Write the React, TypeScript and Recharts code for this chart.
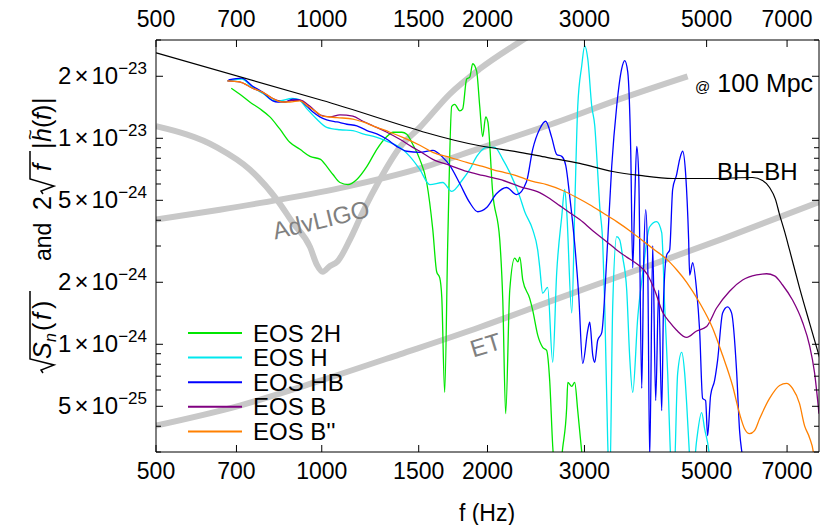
import React from 'react';
import { LineChart, Line, XAxis, YAxis } from 'recharts';

const FONT = "'Liberation Sans', Arial, sans-serif";

// frequency in Hz, amplitude in units of 1e-24
const X_TICKS = [500, 700, 1000, 1500, 2000, 3000, 5000, 7000];
const Y_TICKS = [0.3, 0.4, 0.5, 0.6, 0.7, 0.8, 0.9, 1, 2, 3, 4, 5, 6, 7, 8, 9, 10, 20, 30];
const Y_LABELED = [0.5, 1, 2, 5, 10, 20];

const ADV_LIGO = [
  [500, 11.44], [645, 9.04], [740, 7.06], [829, 5.04], [886, 3.89], [952, 2.97], [980, 2.43],
  [1004, 2.25], [1035, 2.4], [1066, 2.51], [1125, 3.22], [1188, 4.4], [1275, 6.31], [1386, 9.04],
  [1507, 11.3], [1708, 16.4], [1936, 21.7], [2337, 30.4], [2500, 34],
];
const BROADBAND = [
  [500, 4.03], [653, 4.5], [839, 5.04], [1111, 5.83], [1507, 7.14], [1936, 8.94], [2705, 12.1],
  [3476, 15.5], [4618, 20.0],
];
const ET = [
  [500, 0.403], [710, 0.504], [984, 0.66], [1386, 0.894], [1936, 1.21], [2705, 1.68], [3780, 2.32],
  [5346, 3.25], [8000, 4.9],
];
const BHBH = [
  [500, 26.0], [1000, 15.3], [1936, 9.2], [2289, 8.55], [2562, 8.08], [2941, 7.55], [3376, 6.9],
  [3780, 6.6], [4339, 6.38], [5126, 6.38], [6059, 6.45], [6318, 6.24], [6506, 5.77], [6671, 5.04],
  [6784, 4.26], [6929, 3.52], [7073, 2.87], [7375, 1.88], [7689, 1.27], [8026, 0.855],
];
const EOS_2H = [
  [685, 17.5], [709, 16.4], [740, 15.0], [772, 13.9], [805, 12.7], [839, 11.1], [875, 9.56],
  [913, 8.84], [952, 8.17], [995, 7.9], [1021, 7.3], [1048, 6.67], [1079, 6.1], [1116, 5.96],
  [1158, 6.31], [1208, 7.3], [1259, 8.84], [1313, 10.2], [1347, 10.7], [1398, 10.7], [1427, 10.45],
  [1463, 9.35], [1507, 7.9], [1551, 6.1], [1591, 3.6], [1617, 2.25], [1638, 2.1], [1652, 1.69],
  [1672, 0.584], [1694, 3.22], [1722, 14.3], [1744, 14.6], [1781, 13.6], [1803, 13.9], [1833, 19.4],
  [1857, 19.8], [1880, 23.0], [1911, 21.2], [1936, 14.3], [1960, 10.2], [1985, 12.7], [2003, 12.0],
  [2044, 5.45], [2105, 3.22], [2132, 1.64], [2158, 0.46], [2195, 1.83], [2241, 2.62], [2271, 2.51],
  [2289, 2.65], [2318, 2.05], [2386, 1.67], [2416, 1.465], [2468, 1.105], [2519, 0.967],
  [2561, 0.935], [2594, 0.668], [2627, 0.321], [2683, 0.2], [2739, 0.314], [2785, 0.492],
  [2798, 0.653], [2845, 0.625], [2880, 0.653], [2917, 0.476], [2966, 0.3], [3004, 0.2],
];
const EOS_H = [
  [674, 19.0], [715, 19.4], [749, 17.7], [782, 16.5], [815, 15.3], [839, 15.2], [882, 15.6],
  [905, 15.5], [940, 13.9], [979, 12.4], [1021, 11.3], [1079, 11.0], [1139, 10.9], [1188, 10.5],
  [1259, 10.1], [1313, 9.67], [1386, 9.04], [1445, 8.17], [1507, 7.06], [1571, 5.96], [1659, 6.1],
  [1722, 5.52], [1803, 6.31], [1857, 7.06], [1912, 8.17], [1994, 9.04], [2061, 9.04], [2132, 7.9],
  [2195, 6.83], [2289, 5.21], [2337, 4.4], [2416, 3.6], [2467, 2.87], [2488, 2.37], [2519, 1.77],
  [2572, 1.89], [2627, 0.818], [2671, 2.22], [2728, 4.16], [2762, 5.64], [2786, 4.35], [2845, 1.42],
  [2881, 4.66], [2917, 14.3], [2966, 22.5], [3003, 28.1], [3042, 24.3], [3093, 14.3], [3132, 11.5],
  [3171, 6.83], [3198, 4.66], [3238, 3.11], [3266, 1.52], [3306, 0.34], [3334, 0.2], [3376, 1.52],
  [3433, 3.33], [3476, 3.22], [3520, 2.65], [3580, 1.83], [3625, 0.864], [3671, 0.584],
  [3749, 1.35], [3828, 2.22], [3941, 3.72], [4058, 3.94], [4144, 3.48], [4196, 1.52], [4249, 0.722],
  [4302, 0.28], [4356, 0.2], [4430, 0.722], [4505, 0.914], [4562, 0.722], [4600, 0.515],
  [4658, 0.28], [4697, 0.2], [4795, 0.34], [4897, 0.466], [4958, 0.389], [5063, 0.28], [5105, 0.2],
];
const EOS_HB = [
  [677, 19.2], [715, 19.6], [749, 17.9], [782, 16.7], [815, 15.2], [832, 15.0], [857, 15.0],
  [886, 15.5], [913, 15.3], [940, 14.3], [964, 13.4], [992, 12.7], [1021, 12.3], [1066, 12.0],
  [1111, 11.7], [1158, 11.5], [1208, 10.9], [1259, 10.5], [1313, 9.89], [1368, 9.14], [1427, 8.65],
  [1507, 8.55], [1591, 8.74], [1659, 8.08], [1708, 7.39], [1781, 6.03], [1857, 4.87], [1920, 4.4],
  [1993, 4.61], [2078, 5.39], [2166, 5.77], [2259, 5.33], [2355, 6.17], [2416, 8.84], [2488, 11.1],
  [2551, 12.1], [2616, 10.1], [2671, 8.35], [2728, 8.17], [2774, 7.39], [2821, 5.21], [2881, 3.04],
  [2929, 1.73], [2978, 0.808], [3042, 1.17], [3067, 1.28], [3106, 0.884], [3132, 0.818],
  [3171, 1.046], [3225, 1.14], [3292, 2.57], [3362, 7.3], [3433, 14.3], [3505, 21.7], [3550, 23.8],
  [3595, 21.0], [3640, 8.84], [3671, 2.35], [3702, 5.04], [3733, 9.14], [3764, 6.67], [3812, 0.611],
  [3844, 2.57], [3876, 4.5], [3908, 2.57], [3941, 0.28], [3991, 3.01], [4041, 0.533], [4092, 1.83],
  [4144, 0.476], [4178, 1.69], [4230, 2.71], [4284, 2.87], [4338, 5.64], [4411, 6.67], [4467, 7.9],
  [4523, 8.65], [4581, 6.67], [4638, 3.22], [4658, 2.17], [4717, 2.49], [4795, 1.83], [4856, 1.17],
  [4917, 0.546], [4979, 0.533], [5021, 0.36], [5084, 0.564], [5170, 0.668], [5235, 0.836],
  [5346, 1.42], [5458, 1.52], [5550, 1.42], [5667, 0.747], [5739, 0.381], [5812, 0.28], [5885, 0.2],
];
const EOS_B = [
  [674, 19.0], [709, 18.8], [749, 17.5], [782, 16.7], [815, 15.6], [857, 15.0], [886, 15.3],
  [913, 15.3], [952, 14.3], [992, 13.0], [1035, 12.7], [1079, 13.0], [1139, 12.8], [1188, 12.1],
  [1238, 11.5], [1313, 10.7], [1386, 9.89], [1463, 9.04], [1507, 8.65], [1591, 7.9], [1708, 7.39],
  [1833, 6.9], [1960, 6.6], [2105, 6.31], [2289, 5.83], [2488, 5.45], [2594, 5.1], [2705, 4.71],
  [2821, 4.35], [2941, 4.03], [3106, 3.56], [3292, 3.15], [3433, 2.87], [3580, 2.65], [3733, 2.46],
  [3908, 2.17], [4024, 1.83], [4161, 1.43], [4284, 1.28], [4411, 1.17], [4600, 1.08], [4795, 1.16],
  [5000, 1.22], [5213, 1.5], [5504, 1.81], [5812, 2.05], [6162, 2.17], [6425, 2.2], [6643, 2.15],
  [6870, 1.94], [7162, 1.64], [7468, 1.28], [7689, 0.988], [7851, 0.731], [8000, 0.46],
];
const EOS_B2 = [
  [674, 19.0], [709, 18.8], [749, 17.5], [782, 16.7], [815, 15.6], [846, 15.0], [875, 15.0],
  [913, 15.2], [944, 14.3], [979, 13.4], [1004, 12.8], [1066, 12.6], [1139, 12.4], [1188, 12.0],
  [1259, 11.3], [1330, 10.7], [1403, 10.1], [1507, 9.25], [1591, 8.55], [1708, 8.08], [1833, 7.64],
  [1960, 7.3], [2105, 6.9], [2223, 6.67], [2416, 6.17], [2562, 5.96], [2739, 5.58], [2904, 5.16],
  [3067, 4.76], [3238, 4.35], [3433, 3.94], [3625, 3.56], [3828, 3.18], [4024, 2.87], [4230, 2.59],
  [4411, 2.3], [4600, 2.0], [4856, 1.59], [5126, 1.2], [5346, 0.884], [5572, 0.631], [5739, 0.46],
  [5860, 0.389], [5984, 0.368], [6110, 0.381], [6240, 0.435], [6506, 0.546], [6784, 0.631],
  [6983, 0.646], [7162, 0.611], [7375, 0.515], [7530, 0.403], [7689, 0.352], [7820, 0.295],
  [7886, 0.2],
];

const SERIES = [
  { name: 'EOS 2H', rows: EOS_2H, color: '#00e600' },
  { name: 'EOS H', rows: EOS_H, color: '#00e8ee' },
  { name: 'EOS HB', rows: EOS_HB, color: '#0000ff' },
  { name: 'EOS B', rows: EOS_B, color: '#800080' },
  { name: "EOS B''", rows: EOS_B2, color: '#ff8000' },
];

const toPoints = (rows: number[][]) => rows.map(([f, v]) => ({ f, v }));

const GRAY = '#c8c8c8';

const LeftTick = (props: any) => {
  const { x, y, payload } = props;
  const v = payload.value;
  const major = Y_LABELED.includes(v);
  const e = Math.floor(Math.log10(v) + 1e-9);
  const mant = Math.round(v / Math.pow(10, e));
  const exp = e - 24;
  return (
    <g>
      <line x1={x} y1={y} x2={x + (major ? 7 : 5)} y2={y} stroke="#000" />
      {major && (
        <text x={x - 9} y={y + 8} textAnchor="end" fontSize={24} fontFamily={FONT} fill="#000">
          <tspan>{mant}</tspan>
          <tspan dx={3}>×</tspan>
          <tspan dx={3}>10</tspan>
          <tspan dy={-10} fontSize={17}>{'\u2212' + Math.abs(exp)}</tspan>
        </text>
      )}
    </g>
  );
};

const RightTick = (props: any) => {
  const { x, y, payload } = props;
  const major = Y_LABELED.includes(payload.value);
  return <line x1={x} y1={y} x2={x - (major ? 7 : 5)} y2={y} stroke="#000" />;
};

const BottomTick = (props: any) => {
  const { x, y, payload } = props;
  return (
    <g>
      <line x1={x} y1={y} x2={x} y2={y - 7} stroke="#000" />
      <text x={x} y={y + 27} textAnchor="middle" fontSize={23} fontFamily={FONT} fill="#000">
        {payload.value}
      </text>
    </g>
  );
};

const TopTick = (props: any) => {
  const { x, y, payload } = props;
  return (
    <g>
      <line x1={x} y1={y} x2={x} y2={y + 7} stroke="#000" />
      <text x={x} y={y - 13} textAnchor="middle" fontSize={23} fontFamily={FONT} fill="#000">
        {payload.value}
      </text>
    </g>
  );
};

const Overlay = () => (
  <svg
    width={821}
    height={525}
    style={{ position: 'absolute', left: 0, top: 0, pointerEvents: 'none' }}
    fontFamily={FONT}
  >
    {/* y axis title */}
    <g transform="translate(51,373) rotate(-90)" fill="#000">
      <path d="M0,-8 L3,-10 L8,3 L14,-21 L82,-21" stroke="#000" strokeWidth={1.5} fill="none" />
      <text x={14} y={0} fontSize={25} fontStyle="italic">S</text>
      <text x={31} y={5} fontSize={16} fontStyle="italic">n</text>
      <text x={42} y={0} fontSize={25}>(</text>
      <text x={53} y={0} fontSize={25} fontStyle="italic">f</text>
      <text x={64} y={0} fontSize={25}>)</text>
      <text x={112} y={0} fontSize={23}>and</text>
      <text x={163} y={0} fontSize={25}>2</text>
      <path d="M179,-8 L182,-10 L187,3 L194,-21 L222,-21" stroke="#000" strokeWidth={1.5} fill="none" />
      <text x={202} y={0} fontSize={25} fontStyle="italic">f</text>
      <text x={224} y={0} fontSize={25}>|</text>
      <text x={231} y={0} fontSize={25} fontStyle="italic">h</text>
      <text x={233} y={-15} fontSize={18}>~</text>
      <text x={245} y={0} fontSize={25}>(</text>
      <text x={253} y={0} fontSize={25} fontStyle="italic">f</text>
      <text x={260} y={0} fontSize={25}>)</text>
      <text x={269} y={0} fontSize={25}>|</text>
    </g>

    <text x={487} y={521} textAnchor="middle" fontSize={23} fill="#000">f (Hz)</text>

    <text x={695} y={92} fontSize={25} fill="#000">
      <tspan fontSize={15}>@</tspan>
      <tspan dx={7}>100 Mpc</tspan>
    </text>
    <text x={717} y={180} fontSize={24} fill="#000">BH{'\u2212'}BH</text>
    <text transform="translate(323,228) rotate(-13.6)" textAnchor="middle" fontSize={24} fill="#808080">
      AdvLIGO
    </text>
    <text transform="translate(488,353) rotate(-17)" textAnchor="middle" fontSize={24} fill="#808080">
      ET
    </text>

    {/* legend */}
    {SERIES.map((s, i) => {
      const cy = 333 + i * 24.6;
      return (
        <g key={s.name}>
          <line x1={188} y1={cy} x2={242} y2={cy} stroke={s.color} strokeWidth={2} />
          <text x={253} y={cy + 8.5} fontSize={24} fill="#000">{s.name}</text>
        </g>
      );
    })}
  </svg>
);

const App = () => {
  const axisLine = { stroke: '#000', strokeWidth: 1 };
  return (
    <div style={{ position: 'absolute', left: 0, top: 0, width: 821, height: 525, background: '#fff' }}>
      <LineChart width={821} height={525} margin={{ top: 0, right: 0, bottom: 0, left: 0 }}>
        <XAxis
          xAxisId="b"
          dataKey="f"
          type="number"
          scale="log"
          domain={[500, 8000]}
          allowDataOverflow
          ticks={X_TICKS}
          interval={0}
          height={73}
          tickSize={0}
          tickMargin={0}
          tickLine={false}
          axisLine={axisLine}
          tick={<BottomTick />}
        />
        <XAxis
          xAxisId="t"
          dataKey="f"
          type="number"
          scale="log"
          orientation="top"
          domain={[500, 8000]}
          allowDataOverflow
          ticks={X_TICKS}
          interval={0}
          height={40}
          tickSize={0}
          tickMargin={0}
          tickLine={false}
          axisLine={axisLine}
          tick={<TopTick />}
        />
        <YAxis
          yAxisId="l"
          type="number"
          scale="log"
          domain={[0.3, 30]}
          allowDataOverflow
          ticks={Y_TICKS}
          interval={0}
          width={156}
          tickSize={0}
          tickMargin={0}
          tickLine={false}
          axisLine={axisLine}
          tick={<LeftTick />}
        />
        <YAxis
          yAxisId="r"
          orientation="right"
          type="number"
          scale="log"
          domain={[0.3, 30]}
          allowDataOverflow
          ticks={Y_TICKS}
          interval={0}
          width={2}
          tickSize={0}
          tickMargin={0}
          tickLine={false}
          axisLine={axisLine}
          tick={<RightTick />}
        />

        <Line xAxisId="b" yAxisId="l" data={toPoints(ADV_LIGO)} dataKey="v" type="monotone"
          stroke={GRAY} strokeWidth={6} dot={false} isAnimationActive={false} />
        <Line xAxisId="b" yAxisId="l" data={toPoints(BROADBAND)} dataKey="v" type="monotone"
          stroke={GRAY} strokeWidth={6} dot={false} isAnimationActive={false} />
        <Line xAxisId="b" yAxisId="l" data={toPoints(ET)} dataKey="v" type="monotone"
          stroke={GRAY} strokeWidth={6} dot={false} isAnimationActive={false} />

        {SERIES.map((s) => (
          <Line key={s.name} xAxisId="b" yAxisId="l" data={toPoints(s.rows)} dataKey="v" type="monotone"
            stroke={s.color} strokeWidth={1.3} dot={false} isAnimationActive={false} />
        ))}

        <Line xAxisId="b" yAxisId="l" data={toPoints(BHBH)} dataKey="v" type="monotone"
          stroke="#000" strokeWidth={1.2} dot={false} isAnimationActive={false} />
        <Line xAxisId="t" yAxisId="r" data={toPoints(BHBH)} dataKey="v" type="monotone"
          stroke="none" dot={false} isAnimationActive={false} />
      </LineChart>
      <Overlay />
    </div>
  );
};

export default App;
